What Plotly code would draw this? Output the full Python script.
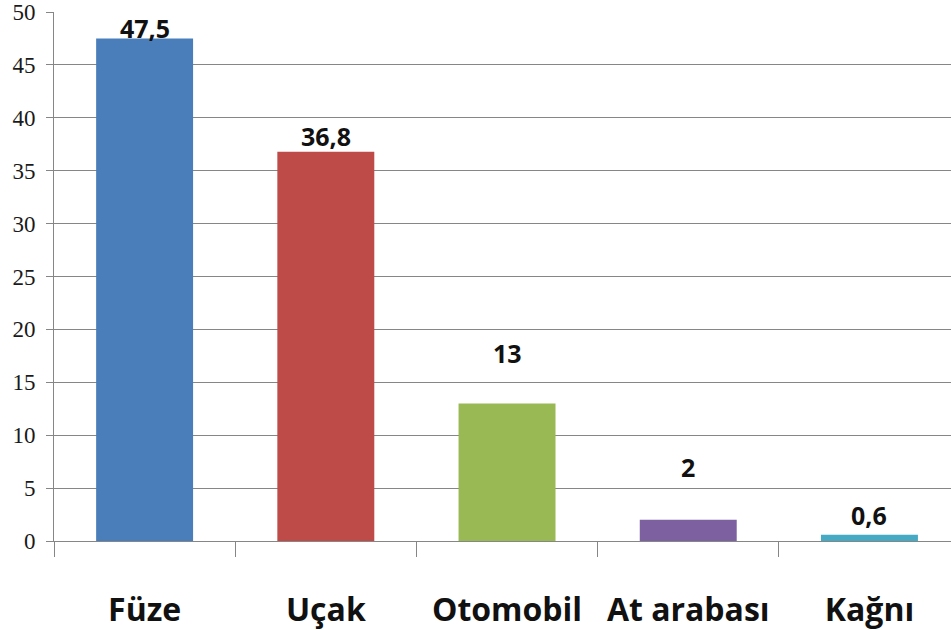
import plotly.graph_objects as go

categories = ["Füze", "Uçak", "Otomobil", "At arabası", "Kağnı"]
values = [47.5, 36.8, 13, 2, 0.6]
value_labels = ["47,5", "36,8", "13", "2", "0,6"]
bar_colors = ["#4A7EBB", "#BE4B48", "#98B954", "#7D60A0", "#46AAC5"]
y_ticks = [0, 5, 10, 15, 20, 25, 30, 35, 40, 45, 50]

# pixel shifts of the data labels above each bar (layout only)
label_shifts = [-9, -3, 31, 34, 1]

fig = go.Figure()
fig.add_trace(go.Bar(
    x=categories, y=values,
    marker=dict(color=bar_colors, line=dict(width=0)),
    width=0.535,
    hoverinfo="skip",
))

for c, v, t, s in zip(categories, values, value_labels, label_shifts):
    fig.add_annotation(
        x=c, y=v, text=t, showarrow=False,
        yanchor="bottom", yshift=s,
        font=dict(family="Open Sans", size=25, color="#111111", weight="bold"),
    )

fig.update_layout(
    width=951, height=630,
    margin=dict(l=54, r=0, t=12, b=89, autoexpand=False),
    paper_bgcolor="white", plot_bgcolor="white",
    showlegend=False,
    bargap=0.465,
)

fig.update_xaxes(
    type="category",
    range=[-0.5, 4.45],
    automargin=False,
    showline=True, linecolor="#868686", linewidth=1,
    ticks="outside", ticklen=15, tickcolor="#868686", tickwidth=1,
    tickson="boundaries",
    showgrid=False,
    tickfont=dict(family="Open Sans", size=32, color="#111111", weight="bold"),
    ticklabelstandoff=41,
)

fig.update_yaxes(
    range=[0, 50],
    tickvals=y_ticks,
    automargin=False,
    showline=True, linecolor="#868686", linewidth=1,
    ticks="outside", ticklen=7, tickcolor="#868686", tickwidth=1,
    showgrid=True, gridcolor="#868686", gridwidth=1,
    zeroline=False,
    tickfont=dict(family="Liberation Serif", size=23, color="#1a1a1a"),
    ticklabelstandoff=6,
)

fig.write_html(
    "out.html",
    config={"displayModeBar": False},
    post_script="document.body.style.margin='0';document.body.style.overflow='hidden';",
)
